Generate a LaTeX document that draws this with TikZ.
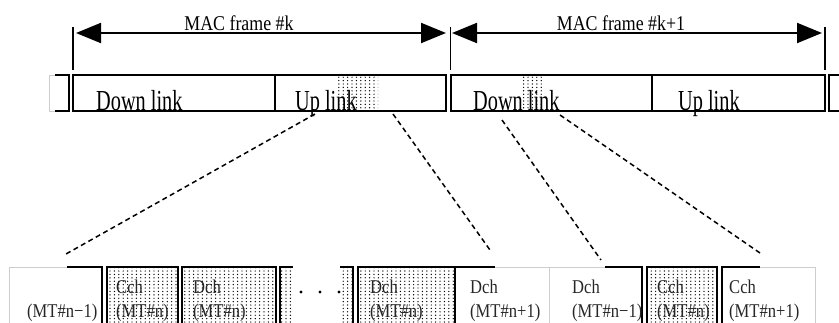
\documentclass[tikz,border=0pt]{standalone}
\usepackage{fontspec}
\setmainfont{Liberation Serif}
\newfontfamily\condfont[FakeStretch=0.7]{Liberation Serif}
\newfontfamily\macfont[FakeStretch=0.85]{Liberation Serif}
\newfontfamily\chfont[FakeStretch=0.85]{Liberation Serif}
\usetikzlibrary{arrows.meta, patterns.meta, math}
\definecolor{mygray}{RGB}{205,205,205}
\tikzdeclarepattern{
  name=stipple, type=uncolored,
  bottom left={(-1pt,-1pt)}, top right={(1pt,1pt)},
  tile size={(4.4pt,3.4pt)},
  code={\pgfpathcircle{\pgfpointorigin}{0.7pt}\pgfusepath{fill}}
}

\begin{document}
\begin{tikzpicture}[x=1pt,y=-1pt,
  boxline/.style={line width=2pt},
  faint/.style={line width=0.7pt,color=mygray},
  tickline/.style={line width=1.2pt},
  framespan/.style={line width=2pt,{Triangle[length=25pt,width=20pt]}-{Triangle[length=25pt,width=20pt]}},
  zoomline/.style={line width=1.5pt,dash pattern=on 5pt off 3.5pt},
  stip/.style={pattern=stipple,pattern color=black},
  toplabel/.style={anchor=base,inner sep=0pt,font=\macfont\fontsize{21}{21}\selectfont},
  linklabel/.style={anchor=base west,inner sep=0pt,font=\condfont\fontsize{29}{29}\selectfont},
  chlabel/.style={anchor=base west,inner sep=0pt,text=black!85,font=\chfont\fontsize{19.5}{19.5}\selectfont}
]
\tikzmath{
\yt=75; \yb=111;   % top row
\ys=267; \ye=330;  % zoomed row
}
\path[use as bounding box,clip] (0,0) rectangle (839,322);

%%%%%%%%%%  frame boundaries and spans
\coordinate (k0) at (73,33);
\coordinate (k1) at (450.5,33);
\coordinate (k2) at (825,33);
\draw[tickline] ([yshift=6pt]k0) -- +(0,43);
\draw[tickline] ([yshift=6pt]k1) -- +(0,43);
\draw[tickline] ([yshift=6pt]k2) -- +(0,43);
\draw[framespan] ([xshift=3pt]k0) -- ([xshift=-4.5pt]k1);
\draw[framespan] ([xshift=1.5pt]k1) -- ([xshift=-3pt]k2);
\node[toplabel] (macK) at (239,30) {MAC frame \#k};
\node[toplabel] (macKK) at (621,30) {MAC frame \#k+1};

%%%%%%%%%%  top row
\path[stip] (338,\yt+1) rectangle (378,\yb-1);
\path[stip] (520,\yt+1) rectangle (544,\yb-1);
\draw[faint] (55,\yt) -- (49,\yt) -- (49,\yb) -- (55,\yb);
\draw[boxline] (55,\yt) -- (69,\yt) -- (69,\yb) -- (55,\yb);
\draw[boxline] (73,\yt) rectangle (446,\yb);
\draw[boxline] (275,\yt) -- (275,\yb);
\draw[boxline] (451,\yt) rectangle (825,\yb);
\draw[boxline] (652,\yt) -- (652,\yb);
\draw[boxline] (845,\yt) -- (829,\yt) -- (829,\yb) -- (845,\yb);
\node[linklabel] (dlK) at (96,110) {Down link};
\node[linklabel] (ulK) at (295,110) {Up link};
\node[linklabel] (dlKK) at (473,110) {Down link};
\node[linklabel] (ulKK) at (678,110) {Up link};

%%%%%%%%%%  zoomed slots
\draw[faint] (67,\ys) -- (9,\ys) -- (9,\ye);
\draw[boxline] (67,\ys) -- (102,\ys) -- (102,\ye);
\draw[boxline,stip] (107,\ye) -- (107,\ys) -- (178,\ys) -- (178,\ye);
\draw[boxline,stip] (182,\ye) -- (182,\ys) -- (276,\ys) -- (276,\ye);
\draw[boxline,stip] (293,\ys) -- (280,\ys) -- (280,\ye) -- (293,\ye);
\draw[boxline,stip] (340,\ys) -- (353,\ys) -- (353,\ye) -- (340,\ye);
\foreach \x in {301,320,339}
  \fill (\x,292) circle (1.6pt);
\draw[boxline,stip] (358,\ye) -- (358,\ys) -- (455,\ys) -- (455,\ye);
\draw[boxline] (455,\ys) -- (495,\ys);
\draw[faint] (495,\ys) -- (549,\ys) -- (549,\ye);
\draw[faint] (549,\ys) -- (605,\ys);
\draw[boxline] (605,\ys) -- (642,\ys) -- (642,\ye);
\draw[boxline,stip] (647,\ye) -- (647,\ys) -- (717,\ys) -- (717,\ye);
\draw[boxline] (722,\ye) -- (722,\ys) -- (760,\ys);
\draw[faint] (760,\ys) -- (815,\ys) -- (815,\ye);

\node[chlabel] (mt27) at (27,317) {(MT\#n−1)};
\foreach \x/\a/\b in {116/Cch/(MT\#n), 193/Dch/(MT\#n), 370/Dch/(MT\#n),
  470/Dch/(MT\#n+1), 572/Dch/(MT\#n−1), 657/Cch/(MT\#n), 729/Cch/(MT\#n+1)}{
  \node[chlabel] (ch\x) at (\x,293) {\a};
  \node[chlabel] (mt\x) at (\x,317) {\b};
}

%%%%%%%%%%  zoom lines
\coordinate (ulA) at (315,114);
\coordinate (ulB) at (393,114);
\coordinate (dlA) at (502,120);
\coordinate (dlB) at (560,115);
\coordinate (sl1) at (66,254);
\coordinate (sl6) at (490,250);
\coordinate (sl7) at (601,260);
\coordinate (sl9) at (760,253);
\draw[zoomline] (ulA) -- (sl1);
\draw[zoomline] (ulB) -- (sl6);
\draw[zoomline] (dlA) -- (sl7);
\draw[zoomline] (dlB) -- (sl9);
\end{tikzpicture}
\end{document}
